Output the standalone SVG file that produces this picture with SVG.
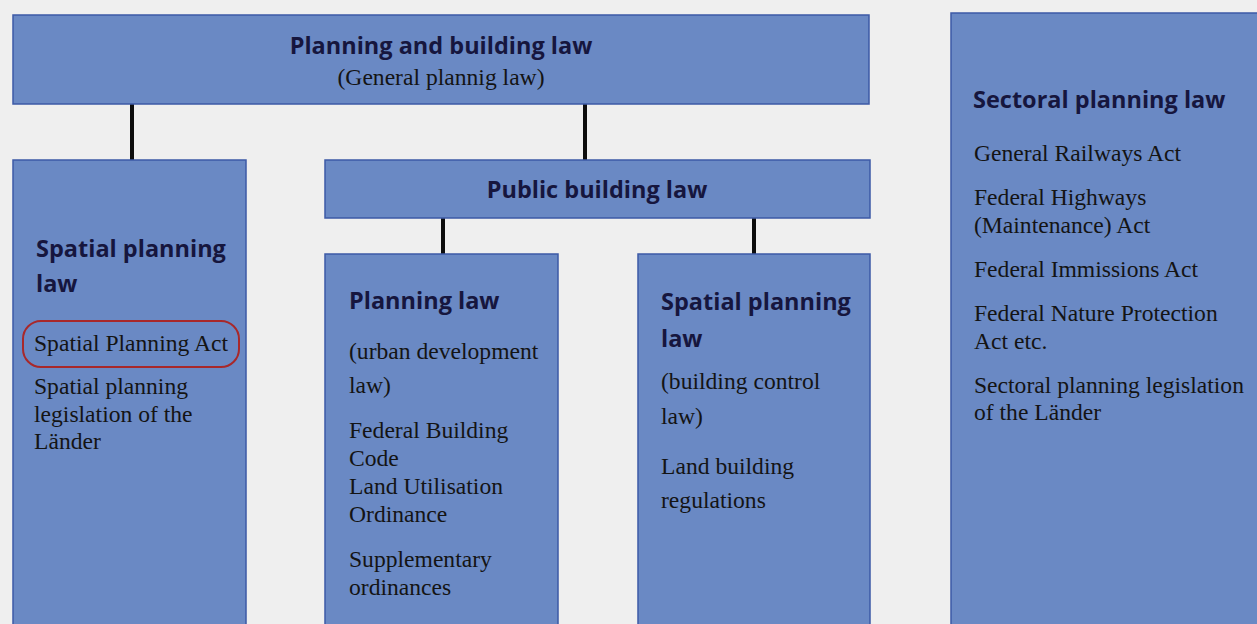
<svg xmlns="http://www.w3.org/2000/svg" width="1257" height="624" viewBox="0 0 1257 624">
  <style>
    .box { fill: #6a89c4; stroke: #3d5aa6; stroke-width: 1.5; }
    .head { font-family: "Open Sans", "Noto Sans", sans-serif; font-weight: bold; font-size: 23.5px; fill: #16163e; }
    .body { font-family: "Liberation Serif", "DejaVu Serif", serif; font-size: 23.6px; fill: #141414; }
    .link { stroke: #0d0d0d; stroke-width: 4; fill: none; }
    .mark { fill: none; stroke: #a8282a; stroke-width: 2; }
  </style>
  <rect width="1257" height="624" fill="#efefef"/>

  <g id="connectors">
    <line class="link" x1="132" y1="104" x2="132" y2="160"/>
    <line class="link" x1="585" y1="104" x2="585" y2="160"/>
    <line class="link" x1="443" y1="218" x2="443" y2="254"/>
    <line class="link" x1="754" y1="218" x2="754" y2="254"/>
  </g>

  <g id="planning-building-law">
    <rect class="box" x="13" y="15" width="856" height="89"/>
    <text class="head" x="441" y="54" text-anchor="middle">Planning and building law</text>
    <text class="body" x="441" y="85" text-anchor="middle">(General plannig law)</text>
  </g>

  <g id="spatial-planning-law">
    <rect class="box" x="13" y="160" width="233" height="470"/>
    <text class="head" x="36" y="257">Spatial planning</text>
    <text class="head" x="36" y="292">law</text>
    <rect class="mark" x="23" y="321" width="216" height="46" rx="18"/>
    <text class="body" x="34" y="351">Spatial Planning Act</text>
    <text class="body" x="34" y="394">Spatial planning</text>
    <text class="body" x="34" y="422">legislation of the</text>
    <text class="body" x="34" y="449">Länder</text>
  </g>

  <g id="public-building-law">
    <rect class="box" x="325" y="160" width="545" height="58"/>
    <text class="head" x="597" y="198" text-anchor="middle">Public building law</text>
  </g>

  <g id="planning-law">
    <rect class="box" x="325" y="254" width="233" height="376"/>
    <text class="head" x="349" y="309">Planning law</text>
    <text class="body" x="349" y="359">(urban development</text>
    <text class="body" x="349" y="393">law)</text>
    <text class="body" x="349" y="438">Federal Building</text>
    <text class="body" x="349" y="466">Code</text>
    <text class="body" x="349" y="494">Land Utilisation</text>
    <text class="body" x="349" y="522">Ordinance</text>
    <text class="body" x="349" y="567">Supplementary</text>
    <text class="body" x="349" y="595">ordinances</text>
  </g>

  <g id="building-control-law">
    <rect class="box" x="638" y="254" width="232" height="376"/>
    <text class="head" x="661" y="310">Spatial planning</text>
    <text class="head" x="661" y="347">law</text>
    <text class="body" x="661" y="389">(building control</text>
    <text class="body" x="661" y="424">law)</text>
    <text class="body" x="661" y="474">Land building</text>
    <text class="body" x="661" y="508">regulations</text>
  </g>

  <g id="sectoral-planning-law">
    <rect class="box" x="951" y="13" width="320" height="620"/>
    <text class="head" x="973" y="108">Sectoral planning law</text>
    <text class="body" x="974" y="161">General Railways Act</text>
    <text class="body" x="974" y="205">Federal Highways</text>
    <text class="body" x="974" y="233">(Maintenance) Act</text>
    <text class="body" x="974" y="277">Federal Immissions Act</text>
    <text class="body" x="974" y="321">Federal Nature Protection</text>
    <text class="body" x="974" y="349">Act etc.</text>
    <text class="body" x="974" y="393">Sectoral planning legislation</text>
    <text class="body" x="974" y="420">of the Länder</text>
  </g>
</svg>
